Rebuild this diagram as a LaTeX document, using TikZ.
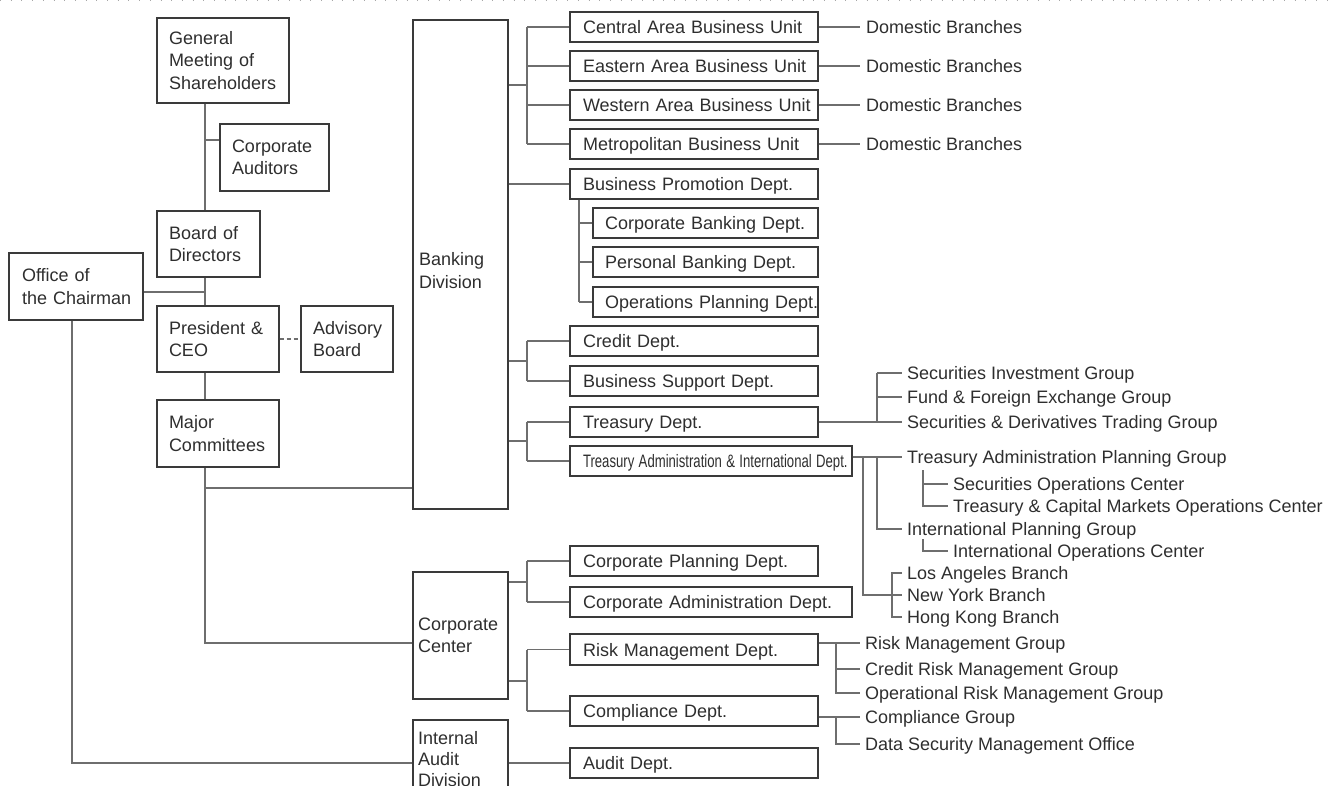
\documentclass[tikz,border=0pt]{standalone}
\usepackage{fontspec}
\setmainfont{Liberation Sans}
\usepackage{graphicx}
\usetikzlibrary{calc}
\definecolor{boxc}{HTML}{3A3A3A}
\definecolor{linec}{HTML}{6E6E6E}
\definecolor{txtc}{HTML}{2E2E2E}
\definecolor{dotc}{HTML}{A8A8A8}
\hbadness=10000 \hfuzz=200pt
\hyphenpenalty=10000 \exhyphenpenalty=10000
\tikzset{
  base/.style={font=\fontsize{18}{22.5}\selectfont, text=txtc},
  box/.style={base, draw=boxc, line width=1.2pt, inner ysep=0pt, align=left},
  lbl/.style={base, anchor=west, inner sep=0pt, text height=15pt, text depth=2pt},
  ln/.style={draw=linec, line width=1.2pt},
  dashln/.style={ln, dash pattern=on 4pt off 3pt},
  dotln/.style={draw=dotc, line width=1pt, dash pattern=on 1pt off 9.7pt},
}
% multi-line box: name, x1, y1, x2, y2, inset, text
\newcommand\bx[7]{%
  \pgfmathsetmacro\bxw{#4-#2}\pgfmathsetmacro\bxh{#5-#3}\pgfmathsetmacro\bxt{#4-#2-2*#6}%
  \node[box, minimum width=\bxw pt, minimum height=\bxh pt, text width=\bxt pt, inner xsep=#6pt]
    (#1) at ({(#2+#4)/2},{(#3+#5)/2}) {#7};}
% single-line box
\newcommand\sbx[7]{%
  \pgfmathsetmacro\bxw{#4-#2}\pgfmathsetmacro\bxh{#5-#3}\pgfmathsetmacro\bxt{#4-#2-2*#6}%
  \node[box, minimum width=\bxw pt, minimum height=\bxh pt, text width=\bxt pt, inner xsep=#6pt,
    text height=15pt, text depth=2pt]
    (#1) at ({(#2+#4)/2},{(#3+#5)/2}) {\mbox{#7}};}
\begin{document}
\begin{tikzpicture}[x=1pt,y=-1pt]
\useasboundingbox (0,0) rectangle (1332,786);
\draw[dotln] (0,1) -- (1332,1);

% ---- left column
\bx{gms}{157}{18}{289}{103}{12}{General\\Meeting~of\\Shareholders}
\bx{aud}{220}{124}{329}{191}{12}{Corporate\\Auditors}
\bx{bod}{157}{211}{260}{277}{12}{Board~of\\Directors}
\bx{ofc}{9}{253}{143}{320}{13}{\mbox{Office of}\\\mbox{the Chairman}}
\bx{pres}{157}{306}{279}{372}{12}{President~\&\\CEO}
\bx{adv}{301}{306}{393}{372}{12}{Advisory\\Board}
\bx{maj}{157}{400}{279}{467}{12}{Major\\Committees}

% ---- divisions
\bx{bank}{413}{20}{508}{509}{6}{\rule{0pt}{25pt}Banking\\Division}
\bx{cc}{413}{572}{508}{699}{5}{Corporate\\Center}
\bx{iad}{413}{720}{508}{798}{5}{Internal\\[-1.5pt]Audit\\[-1.5pt]Division}

% ---- departments
\sbx{cabu}{570}{12}{818}{42}{13}{Central Area Business Unit}
\sbx{eabu}{570}{51}{818}{81}{13}{Eastern Area Business Unit}
\sbx{wabu}{570}{90}{818}{120}{13}{Western Area Business Unit}
\sbx{mbu}{570}{129}{818}{159}{13}{Metropolitan Business Unit}
\sbx{bpd}{570}{169}{818}{199}{13}{Business Promotion Dept.}
\sbx{cbd}{593}{208}{818}{238}{12}{Corporate Banking Dept.}
\sbx{pbd}{593}{247}{818}{277}{12}{Personal Banking Dept.}
\sbx{opd}{593}{287}{818}{317}{12}{Operations Planning Dept.}
\sbx{crd}{570}{326}{818}{356}{13}{Credit Dept.}
\sbx{bsd}{570}{366}{818}{396}{13}{Business Support Dept.}
\sbx{tsd}{570}{407}{818}{437}{13}{Treasury Dept.}
\sbx{taid}{570}{446}{852}{476}{13}{\scalebox{0.73}[1]{Treasury Administration \& International Dept.}}
\sbx{cpd}{570}{546}{818}{576}{13}{Corporate Planning Dept.}
\sbx{cad}{570}{587}{852}{617}{13}{Corporate Administration Dept.}
\sbx{rmd}{570}{634}{818}{665}{13}{Risk Management Dept.}
\sbx{cod}{570}{696}{818}{726}{13}{Compliance Dept.}
\sbx{ad}{570}{748}{818}{778}{13}{Audit Dept.}

% ---- text labels
\node[lbl] (db1) at (866,27) {Domestic Branches};
\node[lbl] (db2) at (866,66) {Domestic Branches};
\node[lbl] (db3) at (866,105) {Domestic Branches};
\node[lbl] (db4) at (866,144) {Domestic Branches};
\node[lbl] (sig) at (907,373) {Securities Investment Group};
\node[lbl] (ffeg) at (907,397) {Fund \& Foreign Exchange Group};
\node[lbl] (sdtg) at (907,422) {Securities \& Derivatives Trading Group};
\node[lbl] (tapg) at (907,457) {Treasury Administration Planning Group};
\node[lbl] (soc) at (953,484) {Securities Operations Center};
\node[lbl] (tcmoc) at (953,506) {Treasury \& Capital Markets Operations Center};
\node[lbl] (ipg) at (907,529) {International Planning Group};
\node[lbl] (ioc) at (953,551) {International Operations Center};
\node[lbl] (la) at (907,573) {Los Angeles Branch};
\node[lbl] (ny) at (907,595) {New York Branch};
\node[lbl] (hk) at (907,617) {Hong Kong Branch};
\node[lbl] (rmg) at (865,643) {Risk Management Group};
\node[lbl] (crmg) at (865,669) {Credit Risk Management Group};
\node[lbl] (ormg) at (865,693) {Operational Risk Management Group};
\node[lbl] (cg) at (865,717) {Compliance Group};
\node[lbl] (dsmo) at (865,744) {Data Security Management Office};

% ---- coordinates of buses
\coordinate (spine) at (205,0);
\coordinate (busA) at (527,0);
\coordinate (busB) at (579,0);
\coordinate (dk) at (860,0);
\coordinate (tx0) at (863,0);
\coordinate (tx1) at (877,0);
\coordinate (tx2) at (892,0);
\coordinate (tk) at (902,0);
\coordinate (tx3) at (923,0);
\coordinate (tk2) at (948,0);
\coordinate (rx) at (836,0);

% ---- left connectors
\draw[ln] (gms.south -| spine) -- (bod.north -| spine);
\draw[ln] (bod.south -| spine) -- (pres.north -| spine);
\draw[ln] (pres.south -| spine) -- (maj.north -| spine);
\draw[ln] (maj.south -| spine) |- ([yshift=-7.5pt]cc.west);
\draw[ln] (spine |- 0,488) -- (bank.west |- 0,488);
\draw[ln] (aud.west |- 0,140) -- (spine |- 0,140);
\draw[ln] (ofc.east |- 0,292) -- (spine |- 0,292);
\draw[dashln] (pres.east) -- (adv.west);
\draw[ln] (ofc.south -| 72,0) |- (iad.west |- 0,763);

% ---- banking division
\draw[ln] (bank.east |- 0,85) -- (busA |- 0,85);
\draw[ln] (busA |- cabu.west) -- (busA |- mbu.west);
\foreach \n in {cabu,eabu,wabu,mbu} \draw[ln] (busA |- \n.west) -- (\n.west);
\draw[ln] (bank.east |- bpd.west) -- (bpd.west);
\draw[ln] (busB |- bpd.south) -- (busB |- opd.west);
\foreach \n in {cbd,pbd,opd} \draw[ln] (busB |- \n.west) -- (\n.west);
\draw[ln] (bank.east |- 0,361) -- (busA |- 0,361);
\draw[ln] (busA |- crd.west) -- (busA |- bsd.west);
\foreach \n in {crd,bsd} \draw[ln] (busA |- \n.west) -- (\n.west);
\draw[ln] (bank.east |- 0,441) -- (busA |- 0,441);
\draw[ln] (busA |- tsd.west) -- (busA |- taid.west);
\foreach \n in {tsd,taid} \draw[ln] (busA |- \n.west) -- (\n.west);

% ---- corporate center & audit
\draw[ln] (cc.east |- 0,582) -- (busA |- 0,582);
\draw[ln] (busA |- cpd.west) -- (busA |- cad.west);
\foreach \n in {cpd,cad} \draw[ln] (busA |- \n.west) -- (\n.west);
\draw[ln] (cc.east |- 0,681) -- (busA |- 0,681);
\draw[ln] (busA |- rmd.west) -- (busA |- cod.west);
\foreach \n in {rmd,cod} \draw[ln] (busA |- \n.west) -- (\n.west);
\draw[ln] (iad.east |- ad.west) -- (ad.west);

% ---- domestic branches
\foreach \b/\d in {cabu/db1,eabu/db2,wabu/db3,mbu/db4} \draw[ln] (\b.east) -- (dk |- \d.west);

% ---- treasury groups
\draw[ln] (tsd.east) -- (tk |- tsd.east);
\draw[ln] (tx1 |- sig.west) -- (tx1 |- tsd.east);
\foreach \n in {sig,ffeg} \draw[ln] (tx1 |- \n.west) -- (tk |- \n.west);
\draw[ln] (taid.east |- tapg.west) -- (tk |- tapg.west);
\draw[ln] (tx0 |- tapg.west) -- (tx0 |- ny.west) -- (tk |- ny.west);
\draw[ln] (tx1 |- tapg.west) -- (tx1 |- ipg.west) -- (tk |- ipg.west);
\draw[ln] (tk |- la.west) -- (tx2 |- la.west) -- (tx2 |- hk.west) -- (tk |- hk.west);
\draw[ln] (tx3 |- 0,470) -- (tx3 |- tcmoc.west) -- (tk2 |- tcmoc.west);
\draw[ln] (tx3 |- soc.west) -- (tk2 |- soc.west);
\draw[ln] (tx3 |- 0,539) -- (tx3 |- ioc.west) -- (tk2 |- ioc.west);

% ---- risk & compliance groups
\draw[ln] (rmd.east |- rmg.west) -- (dk |- rmg.west);
\draw[ln] (rx |- rmg.west) -- (rx |- ormg.west) -- (dk |- ormg.west);
\draw[ln] (rx |- crmg.west) -- (dk |- crmg.west);
\draw[ln] (cod.east |- cg.west) -- (dk |- cg.west);
\draw[ln] (rx |- cg.west) -- (rx |- dsmo.west) -- (dk |- dsmo.west);
\end{tikzpicture}
\end{document}
